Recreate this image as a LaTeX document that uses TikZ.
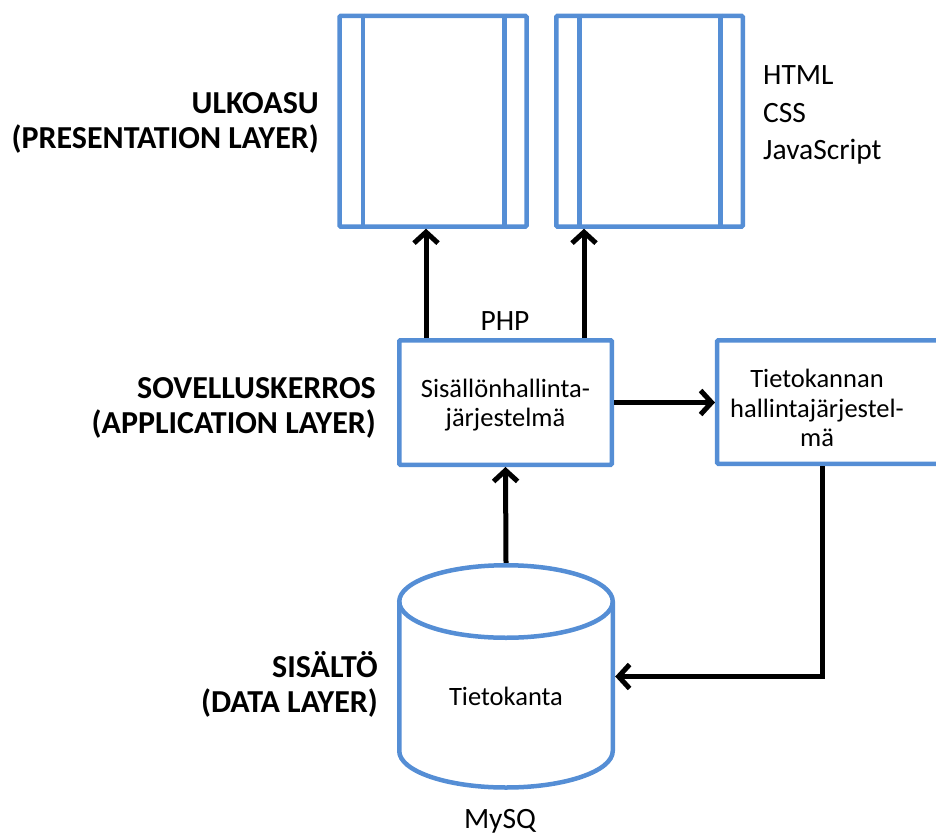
\documentclass[tikz,border=0pt]{standalone}
\usepackage{fontspec}
\setmainfont{Carlito}
\usetikzlibrary{arrows.meta,calc}
\definecolor{boxblue}{RGB}{85,142,213}
\begin{document}
\begin{tikzpicture}[x=1pt,y=-1pt,
  frame/.style={draw=boxblue, line width=4.5pt, rounded corners=1pt, inner sep=0pt},
  blueline/.style={draw=boxblue, line width=4.5pt},
  conn/.style={draw=black, line width=5pt, -{Straight Barb[length=11pt,width=24pt]}},
  layer/.style={font=\bfseries\fontsize{32}{35}\selectfont, align=right, anchor=base east, inner sep=0pt},
  plain/.style={font=\fontsize{29.5}{37}\selectfont, inner sep=0pt},
  boxtext/.style={font=\fontsize{26.5}{29.5}\selectfont, align=center, inner sep=0pt}
]
\useasboundingbox (0,0) rectangle (936,832);
\clip (0,0) rectangle (936,832);

% presentation layer: two page symbols
\node (page1) [frame, minimum width=187pt, minimum height=210.5pt] at (433,121.25) {};
\node (page2) [frame, minimum width=186.5pt, minimum height=210.5pt] at (649.5,121.25) {};
\foreach \p in {page1,page2}{
  \draw[blueline] ([xshift=25.5pt]\p.north west) -- ([xshift=25.5pt]\p.south west);
  \draw[blueline] ([xshift=-24.5pt]\p.north east) -- ([xshift=-24.5pt]\p.south east);
}

% application layer
\node (app) [frame, minimum width=212.5pt, minimum height=124.5pt] at (505.5,402.5) {};
\node (apptext) [boxtext] at (505.5,405) {Sisällönhallinta-\\järjestelmä};
\node (dbms) [frame, minimum width=262.75pt, minimum height=123.5pt] at (848.6,402) {};
\node (dbmstext) [boxtext] at (817,408) {Tietokannan\\hallintajärjestel-\\mä};

% data layer: database cylinder
\node (db) [inner sep=0pt, minimum width=218pt, minimum height=227pt] at (506,676.5) {};
\draw[blueline] (506,601.5) ellipse [x radius=106.75pt, y radius=36.25pt];
\draw[blueline] (399.25,601.5) -- (399.25,751)
  arc[start angle=180, end angle=360, x radius=106.75pt, y radius=36.5pt] -- (612.75,601.5);
\node (dbtext) [boxtext, anchor=base] at (506,705) {Tietokanta};

% side notes
\node (php) [plain, anchor=base] at (505,330) {PHP};
\node (mysql) [plain, anchor=base] at (500,828) {MySQ};
\node (web) [plain, align=left, anchor=base west] at (763,159) {HTML\\CSS\\JavaScript};

% layer names (anchored at the baseline of the last line)
\node (ulko) [layer] at (319,148) {ULKOASU\\(PRESENTATION LAYER)};
\node (sovel) [layer] at (376,433) {SOVELLUSKERROS\\(APPLICATION LAYER)};
\node (sisal) [layer] at (378,712) {SISÄLTÖ\\(DATA LAYER)};

% connectors
\draw[conn] ([xshift=29pt]app.north west) -- ([xshift=29pt]app.north west |- page1.south);
\draw[conn] ([xshift=187pt]app.north west) -- ([xshift=187pt]app.north west |- page2.south);
\draw[conn] (app.east) -- (dbms.west |- app.east);
\draw[conn] (db.north) -- (app.south);
\draw[conn] ([xshift=108pt]dbms.south west) |- (db.east);
\end{tikzpicture}
\end{document}
